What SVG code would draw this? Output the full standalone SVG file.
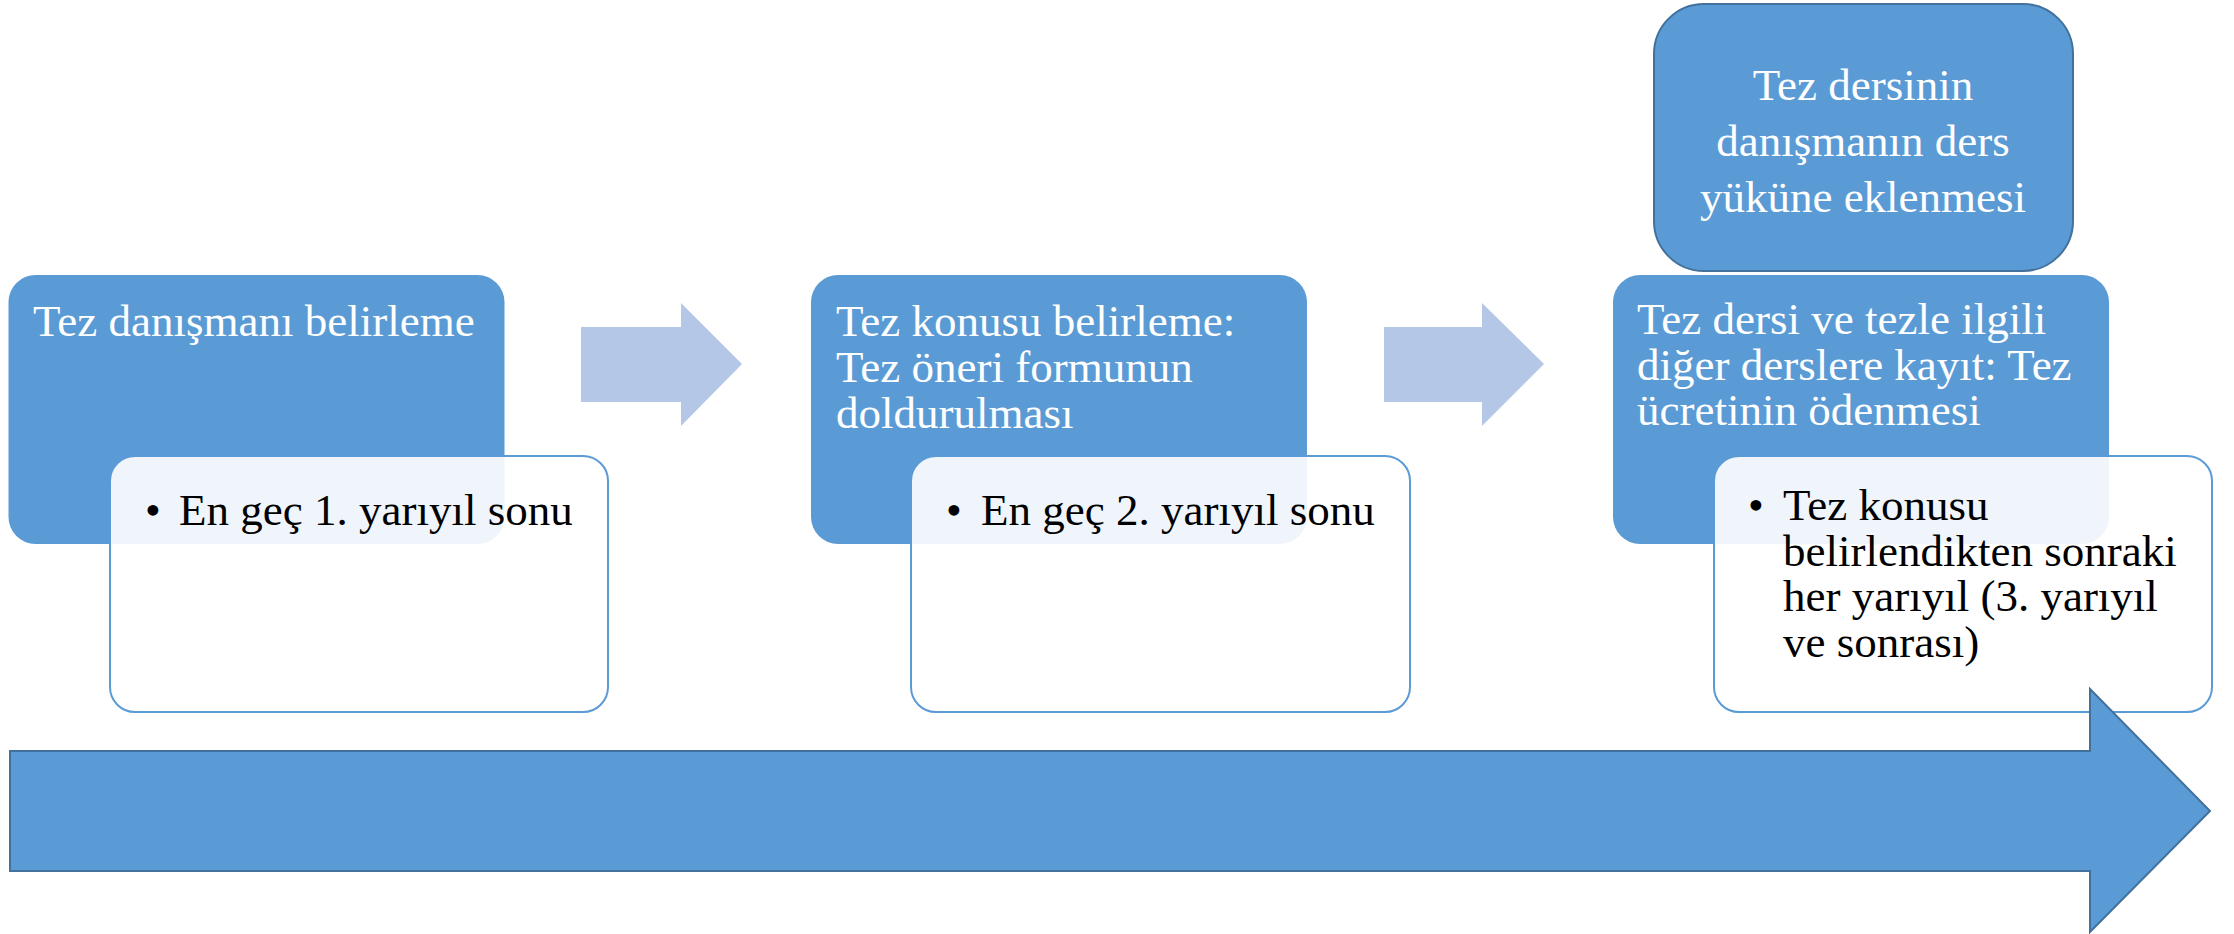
<svg xmlns="http://www.w3.org/2000/svg" width="2234" height="934" viewBox="0 0 2234 934">
<style>
.blue{fill:#5B9BD5}
.sub{fill:#FFFFFF;fill-opacity:0.9;stroke:#5B9BD5;stroke-width:2}
.t{font-family:"Liberation Serif","Times New Roman",serif;font-size:45px}
.w{fill:#FFFFFF}
.k{fill:#000000}
.step{fill:#B4C7E7}
</style>
<rect width="2234" height="934" fill="#FFFFFF"/>
<g id="connectors">
<polygon class="step" points="581,327 681,327 681,303 742,364 681,426 681,402 581,402"/>
<polygon class="step" points="1384,327 1482,327 1482,303 1544,364 1482,426 1482,402 1384,402"/>
</g>
<g id="node1">
<rect class="blue" x="8.5" y="275" width="496" height="269" rx="27" ry="27"/>
<text class="t w" x="33" y="336">Tez danışmanı belirleme</text>
<rect class="sub" x="110" y="456" width="498" height="256" rx="25" ry="25"/>
<text class="t k" x="145" y="525">•</text>
<text class="t k" x="179" y="525">En geç 1. yarıyıl sonu</text>
</g>
<g id="node2">
<rect class="blue" x="811" y="275" width="496" height="269" rx="27" ry="27"/>
<text class="t w"><tspan x="836" y="336">Tez konusu belirleme:</tspan><tspan x="836" y="382">Tez öneri formunun</tspan><tspan x="836" y="428">doldurulması</tspan></text>
<rect class="sub" x="911" y="456" width="499" height="256" rx="25" ry="25"/>
<text class="t k" x="946" y="525">•</text>
<text class="t k" x="981" y="525">En geç 2. yarıyıl sonu</text>
</g>
<g id="node3">
<rect class="blue" x="1613" y="275" width="496" height="269" rx="27" ry="27"/>
<text class="t w"><tspan x="1637" y="334">Tez dersi ve tezle ilgili</tspan><tspan x="1637" y="380">diğer derslere kayıt: Tez</tspan><tspan x="1637" y="425">ücretinin ödenmesi</tspan></text>
<rect class="sub" x="1714" y="456" width="498" height="256" rx="25" ry="25"/>
<text class="t k" x="1748" y="520">•</text>
<text class="t k"><tspan x="1783" y="520">Tez konusu</tspan><tspan x="1783" y="566">belirlendikten sonraki</tspan><tspan x="1783" y="611">her yarıyıl (3. yarıyıl</tspan><tspan x="1783" y="657">ve sonrası)</tspan></text>
</g>
<g id="node4">
<rect class="blue" x="1654" y="4" width="419" height="267" rx="50" ry="50" stroke="#41719C" stroke-width="2"/>
<text class="t w" text-anchor="middle"><tspan x="1863" y="100">Tez dersinin</tspan><tspan x="1863" y="156">danışmanın ders</tspan><tspan x="1863" y="212">yüküne eklenmesi</tspan></text>
</g>
<g id="timeline">
<polygon class="blue" points="10,751 2090,751 2090,689 2210,811 2090,932 2090,871 10,871" stroke="#41719C" stroke-width="2"/>
</g>
</svg>
